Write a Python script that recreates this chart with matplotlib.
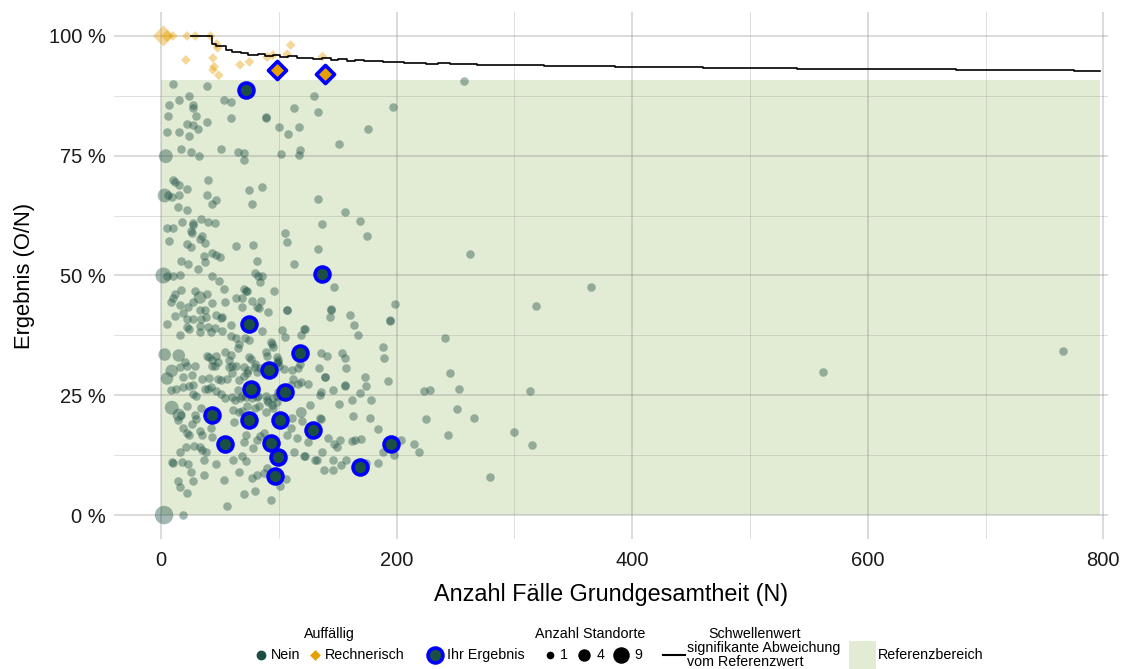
import matplotlib
matplotlib.use("Agg")
import matplotlib.pyplot as plt
from matplotlib.patches import Rectangle

plt.rcParams['font.family'] = ['Liberation Sans', 'DejaVu Sans']

# ---------------- data ----------------
# "Nein" (not conspicuous), single site
nein_n = [10, 39, 24, 15, 7, 27, 27, 53, 59, 113, 6, 30, 59, 89, 89, 22, 27, 31, 39, 100, 117, 108, 5, 15, 24,
          17, 25, 32, 51, 65, 70, 70, 102, 118, 117, 10, 12, 15, 22, 6, 9, 15, 40, 39, 47, 43, 75, 86, 77, 14,
          22, 18, 27, 34, 40, 46,
          130, 133, 197, 257, 176, 151, 133, 156, 137, 169,
          262, 365, 199, 318, 194, 194, 241, 188, 189, 245, 193, 223, 228, 253, 313, 251, 225, 266, 300, 244,
          204, 215, 219, 198, 315, 279, 562, 766,
          175, 133, 147, 144, 144, 143, 160, 164, 167, 122, 136, 141, 154, 156, 134, 157,
          139, 139, 173, 125, 136, 135, 146, 156, 156, 174, 169, 162, 178, 151, 126, 163, 177, 135, 136, 184,
          142, 152, 162, 165, 170, 125, 147, 149, 188, 137, 122, 131, 132, 146, 157, 153, 174, 184, 138, 146,
          5, 10, 27, 25, 26, 35, 33, 37, 7, 22, 25, 64, 78, 105, 107, 113, 43, 47, 50, 36, 37, 17, 23, 31, 81,
          5, 10, 16, 43, 49, 80, 82, 86, 84, 96, 70, 73, 53, 29, 39, 17, 12, 10, 8, 27, 43, 54, 64, 69, 72, 77,
          85, 16, 23, 33, 37, 69, 81, 83, 91, 107, 107, 12, 19, 22, 27, 34, 38, 47, 51, 52, 59, 5, 16, 22, 24,
          33, 33, 40, 42, 46, 52, 59, 64, 66, 65, 71, 75, 86, 93, 94, 95, 103, 105, 121, 119, 118, 116, 98, 99,
          89, 90, 20, 22, 29, 39, 41, 43, 47, 48, 43, 46, 54, 59, 58, 60, 58, 64, 70, 75, 76, 80, 80, 98, 99,
          16, 19, 26, 27, 35, 41, 48, 51, 56, 60, 66, 70, 73, 74, 81, 84, 100, 104, 111, 112, 110, 116, 119,
          8, 13, 19, 24, 27, 30, 37, 40, 42, 47, 51, 54, 60, 63, 65, 67, 69, 72, 77, 81, 82, 89, 90, 95, 98, 99,
          14, 17, 22, 29, 30, 34, 26, 19, 22, 24, 33, 35, 42, 43, 61, 73, 66, 69, 80, 83, 89, 91, 94, 95, 98,
          110, 107, 115, 111, 120, 72, 81, 84, 87, 62, 21, 28, 33, 35, 38, 36, 16, 18, 9, 10, 23, 25, 27, 36,
          14, 16, 22, 47, 53, 61, 69, 66, 72, 78, 70, 80, 93, 56, 87, 90, 81, 77, 101, 106, 113, 121, 70, 19]
nein_pct = [89.9, 89.6, 87.4, 86.6, 85.6, 85.6, 85.0, 86.7, 86.3, 84.9, 83.2, 83.2, 82.9, 82.9, 83.1, 81.7, 81.4,
            80.6, 82.0, 80.9, 81.1, 79.5, 79.9, 79.9, 79.1, 76.4, 75.8, 74.9, 76.4, 75.7, 75.6, 74.2, 75.4, 76.1,
            75.2, 69.9, 69.5, 68.9, 68.1, 66.7, 66.4, 66.7, 69.9, 66.7, 65.8, 65.0, 67.9, 68.5, 64.9, 64.2, 63.6,
            61.2, 61.0, 61.8, 61.1, 61.0,
            87.5, 84.1, 85.2, 90.6, 80.6, 77.4, 66.0, 63.3, 60.7, 61.4,
            54.5, 47.6, 44.1, 43.6, 40.6, 40.8, 36.9, 35.0, 32.8, 29.7, 27.9, 25.9, 26.2, 26.4, 25.8, 22.2, 20.0,
            20.3, 17.3, 16.8, 15.7, 14.8, 13.2, 12.5, 14.6, 7.9, 29.9, 34.2,
            58.2, 55.6, 47.5, 42.9, 43.1, 41.3, 41.8, 39.6, 37.6, 38.8, 33.8, 33.3, 33.8, 32.8, 30.7, 30.7,
            28.8, 28.9, 28.8, 27.4, 25.6, 25.1, 26.0, 27.0, 27.2, 27.0, 25.5, 24.1, 24.1, 23.1, 23.0, 20.7, 20.3,
            20.2, 20.0, 18.0, 16.1, 15.7, 15.4, 15.7, 15.9, 15.2, 14.9, 14.1, 13.2, 13.1, 12.4, 11.5, 11.4, 11.5,
            11.4, 10.4, 10.9, 10.9, 9.3, 9.5,
            59.9, 60.0, 60.6, 59.2, 58.8, 58.2, 57.6, 56.7, 57.1, 56.6, 56.0, 56.2, 56.3, 58.9, 57.0, 52.3, 54.8,
            54.3, 53.9, 54.1, 52.8, 53.0, 52.3, 51.4, 53.0, 49.9, 49.9, 50.0, 49.9, 48.9, 50.6, 49.9, 49.9, 48.6,
            46.8, 47.1, 46.7, 47.1, 46.7, 46.1, 47.0, 46.1, 45.4, 44.5, 44.5, 44.3, 44.5, 45.2, 45.2, 46.7, 44.6,
            44.7, 43.8, 43.4, 42.7, 42.9, 43.4, 43.4, 43.2, 42.4, 42.9, 42.7, 41.5, 42.1, 40.9, 41.0, 41.0, 41.4,
            41.7, 41.1, 41.4, 39.6, 39.9, 37.5, 39.3, 38.9, 39.5, 38.2, 39.2, 38.2, 39.0, 38.5, 37.4, 36.9, 35.7,
            34.9, 36.9, 36.5, 38.5, 36.1, 35.6, 35.1, 38.6, 37.1, 38.8, 37.6, 31.5, 30.7, 32.9, 32.4, 34.0, 33.2,
            31.9, 31.2, 31.2, 33.3, 32.9, 32.4, 33.2, 31.9, 31.2, 31.2, 34.0, 33.5, 32.4, 31.2, 31.0, 31.2, 31.0,
            33.0, 32.6, 31.5, 31.0, 31.7, 31.9,
            30.8, 28.8, 29.2, 27.1, 28.5, 28.7, 28.5, 28.1, 28.5, 29.6, 28.2, 29.1, 29.6, 30.3, 29.9, 30.6, 31.2,
            30.5, 30.3, 28.5, 27.1, 27.3, 27.7,
            26.2, 26.4, 26.7, 27.0, 25.2, 24.9, 26.3, 26.3, 26.7, 25.9, 25.2, 24.5, 24.6, 24.1, 26.2, 24.4, 24.8,
            24.6, 24.5, 24.6, 24.9, 24.9, 24.1, 24.4, 24.9, 25.6,
            19.9, 20.9, 22.7, 20.9, 20.0, 22.3, 19.1, 18.1, 17.1, 16.7, 17.5, 16.8, 18.1, 16.3, 22.0, 22.7, 21.6,
            21.7, 22.4, 22.8, 21.6, 23.5, 23.0, 22.3, 23.5, 18.1, 16.7, 16.0, 20.3, 19.6, 16.7, 15.7, 16.4, 17.1,
            19.4, 14.3, 14.5, 14.3, 13.5, 13.1, 11.4, 13.2, 11.1, 11.1, 10.8, 10.6, 9.0, 7.1, 8.4, 7.1, 5.8, 4.6,
            10.7, 7.4, 11.4, 12.3, 8.9, 11.3, 13.9, 4.3, 5.0, 3.2, 1.8, 8.8, 9.8, 8.4, 7.7, 6.0, 7.5, 13.2, 12.4,
            15.3, 0.0]

# "Nein" with several sites
nein_multi_n = [4, 3, 2, 33, 3, 15, 5, 9, 9, 15, 119, 2.5]
nein_multi_pct = [74.9, 66.7, 50.0, 45.4, 33.5, 33.3, 28.5, 30.1, 22.4, 20.9, 21.4, 0.0]
nein_multi_cnt = [4, 4, 6, 3, 3, 3, 3, 3, 4, 3, 2, 9]

# "Rechnerisch" (computationally conspicuous)
rech_n = [2, 5, 10, 22, 29, 42, 47, 48, 21, 44, 45, 44, 49, 67, 75, 90, 95, 107, 110, 137]
rech_pct = [100, 100, 100, 100, 100, 100, 98.3, 97.5, 95.0, 95.4, 93.6, 92.9, 91.8, 94.0, 94.6, 95.6, 96.0,
            96.2, 98.1, 95.7]
rech_cnt = [9, 2, 1, 1, 1, 1, 1, 1, 1, 1, 1, 1, 1, 1, 1, 1, 1, 1, 1, 1]

# "Ihr Ergebnis" (own results)
ihr_nein_n = [72, 137, 75, 118, 92, 76, 105, 43, 75, 101, 129, 54, 93, 195, 99, 97, 169]
ihr_nein_pct = [88.8, 50.3, 39.9, 33.8, 30.3, 26.3, 25.6, 20.9, 19.9, 19.8, 17.8, 14.8, 15.0, 14.9, 12.1, 8.2, 10.0]
ihr_rech_n = [98, 139]
ihr_rech_pct = [92.8, 92.1]

# threshold line (significant deviation from reference value), read as a jagged staircase
thr_n = [25, 43, 47, 55, 60, 68, 74, 82, 88, 95, 101, 108, 115, 122, 129, 137, 144, 150, 158, 165, 172,
         180, 188, 197, 206, 215, 225, 235, 245, 255, 268, 280, 295, 310, 325, 340, 355, 370, 385, 400,
         420, 440, 460, 480, 500, 520, 540, 560, 580, 600, 625, 650, 675, 700, 725, 750, 775, 797]
thr_pct = [100, 98.3, 97.9, 97.0, 96.6, 96.4, 96.0, 96.2, 95.8, 96.0, 95.6, 95.8, 95.4, 95.5, 95.2, 95.3,
           95.0, 95.1, 94.8, 94.9, 94.7, 94.7, 94.5, 94.6, 94.4, 94.4, 94.2, 94.3, 94.1, 94.1, 94.0, 94.0,
           93.9, 93.9, 93.8, 93.8, 93.7, 93.7, 93.6, 93.6, 93.5, 93.5, 93.4, 93.4, 93.3, 93.3, 93.2, 93.2,
           93.1, 93.1, 93.0, 93.0, 92.9, 92.9, 92.8, 92.8, 92.7, 92.6]

# reference range
ref_n_max = 797
ref_pct_min = 0
ref_pct_max = 90.8

x_ticks = [0, 200, 400, 600, 800]
y_ticks = [0, 25, 50, 75, 100]
y_ticklabels = ["0 %", "25 %", "50 %", "75 %", "100 %"]

# ---------------- style ----------------
C_NEIN = "#1b4f44"
C_RECH = "#E69F00"
C_BLUE = "#0000ff"
C_REF = "#e2ebd3"


def size_of(c):
    return 38 * (c ** 0.7)


W, H = 1131, 669
fig = plt.figure(figsize=(W / 100, H / 100), dpi=100)
ax = fig.add_axes([114 / W, 1 - 539 / H, (1108 - 114) / W, (539 - 12) / H])
ax.set_xlim(-40, 804)
ax.set_ylim(-5, 105)
for s in ax.spines.values():
    s.set_visible(False)
ax.set_axisbelow(True)

ax.add_patch(Rectangle((0, ref_pct_min), ref_n_max, ref_pct_max - ref_pct_min,
                       facecolor=C_REF, edgecolor="none", zorder=0.2))

ax.set_xticks(x_ticks)
ax.set_xticks([100, 300, 500, 700], minor=True)
ax.set_yticks(y_ticks)
ax.set_yticklabels(y_ticklabels)
ax.set_yticks([12.5, 37.5, 62.5, 87.5], minor=True)
ax.grid(True, which="major", color=(0.55, 0.55, 0.55), alpha=0.4, lw=1.1)
ax.grid(True, which="minor", color=(0.55, 0.55, 0.55), alpha=0.3, lw=0.6)
ax.tick_params(which="both", length=0, labelsize=14.5, labelcolor="#1a1a1a")
ax.tick_params(axis="x", pad=9)
ax.tick_params(axis="y", pad=6)

ax.scatter(nein_n, nein_pct, s=size_of(1), color=C_NEIN, alpha=0.4, linewidths=0, zorder=3)
ax.scatter(nein_multi_n, nein_multi_pct, s=[size_of(c) for c in nein_multi_cnt], color=C_NEIN,
           alpha=0.4, linewidths=0, zorder=3)
ax.scatter(rech_n, rech_pct, s=[size_of(c) * 0.65 for c in rech_cnt], marker="D", color=C_RECH,
           alpha=0.4, linewidths=0, zorder=3)
ax.step(thr_n, thr_pct, where="post", color="black", lw=1.2, zorder=4)
ax.scatter(ihr_nein_n, ihr_nein_pct, s=115, facecolor=C_NEIN, edgecolor=C_BLUE, linewidths=2.6, zorder=5)
ax.scatter(ihr_rech_n, ihr_rech_pct, s=85, marker="D", facecolor=C_RECH, edgecolor=C_BLUE,
           linewidths=2.6, zorder=5)

ax.set_xlabel("Anzahl Fälle Grundgesamtheit (N)", fontsize=16.8, labelpad=9)
ax.set_ylabel("Ergebnis (O/N)", fontsize=15.8, labelpad=10)

# ---------------- legend (drawn in pixel coordinates) ----------------
lg = fig.add_axes([0, 0, 1, 1], facecolor="none")
lg.set_xlim(0, W)
lg.set_ylim(H, 0)
lg.axis("off")
fs = 10.3
ty, iy = 634, 655
lg.text(329, ty, "Auffällig", ha="center", va="center", fontsize=fs)
lg.scatter([261], [iy], s=50, color=C_NEIN, linewidths=0)
lg.text(271, iy, "Nein", ha="left", va="center", fontsize=fs)
lg.scatter([315], [iy], s=30, marker="D", color=C_RECH, linewidths=0)
lg.text(325, iy, "Rechnerisch", ha="left", va="center", fontsize=fs)
lg.scatter([435], [iy], s=115, facecolor=C_NEIN, edgecolor=C_BLUE, linewidths=2.6)
lg.text(447, iy, "Ihr Ergebnis", ha="left", va="center", fontsize=fs)

lg.text(590, ty, "Anzahl Standorte", ha="center", va="center", fontsize=fs)
for x, c, lx in [(550, 1, 560), (584, 4, 597), (621, 9, 634)]:
    lg.scatter([x], [iy], s=size_of(c) * 0.8, color="black", linewidths=0)
    lg.text(lx, iy, str(c), ha="left", va="center", fontsize=fs)

lg.text(755, ty, "Schwellenwert", ha="center", va="center", fontsize=fs)
lg.plot([663, 685], [iy, iy], color="black", lw=1.5)
lg.text(687, 648, "signifikante Abweichung", ha="left", va="center", fontsize=fs)
lg.text(687, 662, "vom Referenzwert", ha="left", va="center", fontsize=fs)

lg.add_patch(Rectangle((849, 641), 27, 28, facecolor=C_REF, edgecolor="none"))
lg.text(878, iy, "Referenzbereich", ha="left", va="center", fontsize=fs)

fig.savefig("out.png", dpi=100)
